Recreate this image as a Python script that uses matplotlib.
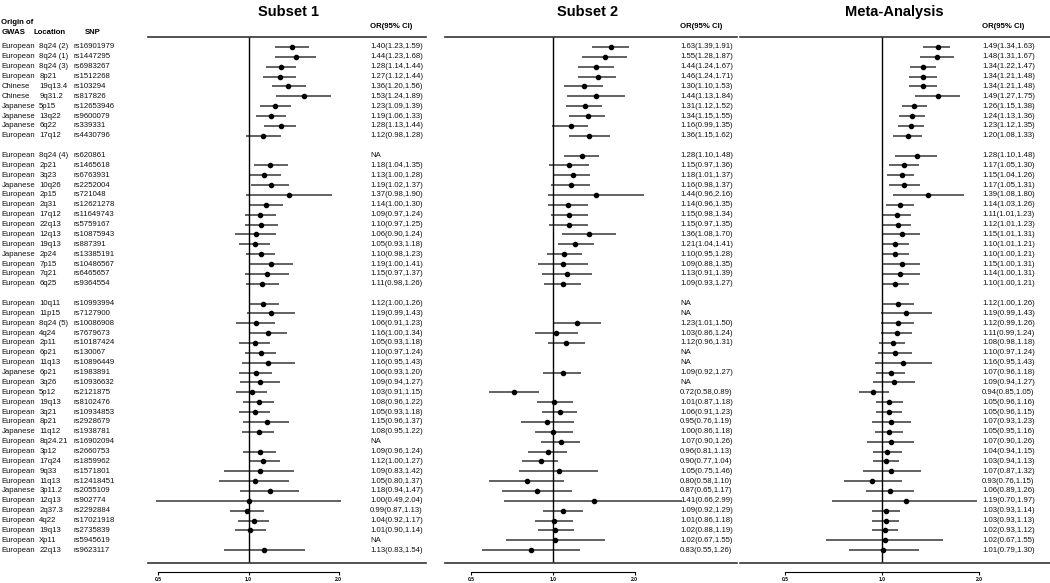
import numpy as np
import matplotlib
matplotlib.use('Agg')
import matplotlib.pyplot as plt
import matplotlib.transforms as mtransforms

plt.rcParams['font.family'] = ['Liberation Sans', 'DejaVu Sans']

# ---- data -------------------------------------------------------------
group_sizes = [10, 14, 26]

origin = ["European", "European", "European", "European", "Chinese", "Chinese",
          "Japanese", "Japanese", "Japanese", "European",
          "European", "European", "European", "Japanese", "European", "European",
          "European", "European", "European", "European", "Japanese", "European",
          "European", "European",
          "European", "European", "European", "European", "European", "European",
          "European", "Japanese", "European", "European", "European", "European",
          "European", "Japanese", "European", "European", "European", "European",
          "European", "Japanese", "European", "European", "European", "European",
          "European", "European"]

location = ["8q24 (2)", "8q24 (1)", "8q24 (3)", "8p21", "19q13.4", "9q31.2", "5p15",
            "13q22", "6q22", "17q12",
            "8q24 (4)", "2p21", "3q23", "10q26", "2p15", "2q31", "17q12", "22q13",
            "12q13", "19q13", "2p24", "7p15", "7q21", "6q25",
            "10q11", "11p15", "8q24 (5)", "4q24", "2p11", "6p21", "11q13", "6p21",
            "3q26", "5p12", "19q13", "3q21", "8p21", "11q12", "8q24.21", "3p12",
            "17q24", "9q33", "11q13", "3p11.2", "12q13", "2q37.3", "4q22", "19q13",
            "Xp11", "22q13"]

snp = ["rs16901979", "rs1447295", "rs6983267", "rs1512268", "rs103294", "rs817826",
       "rs12653946", "rs9600079", "rs339331", "rs4430796",
       "rs620861", "rs1465618", "rs6763931", "rs2252004", "rs721048", "rs12621278",
       "rs11649743", "rs5759167", "rs10875943", "rs887391", "rs13385191",
       "rs10486567", "rs6465657", "rs9364554",
       "rs10993994", "rs7127900", "rs10086908", "rs7679673", "rs10187424",
       "rs130067", "rs10896449", "rs1983891", "rs10936632", "rs2121875",
       "rs8102476", "rs10934853", "rs2928679", "rs1938781", "rs16902094",
       "rs2660753", "rs1859962", "rs1571801", "rs12418451", "rs2055109",
       "rs902774", "rs2292884", "rs17021918", "rs2735839", "rs5945619", "rs9623117"]

s1_or = [1.40, 1.44, 1.28, 1.27, 1.36, 1.53, 1.23, 1.19, 1.28, 1.12,
         None, 1.18, 1.13, 1.19, 1.37, 1.14, 1.09, 1.10, 1.06, 1.05, 1.10, 1.19, 1.15, 1.11,
         1.12, 1.19, 1.06, 1.16, 1.05, 1.10, 1.16, 1.06, 1.09, 1.03, 1.08, 1.05, 1.15,
         1.08, None, 1.09, 1.12, 1.09, 1.05, 1.18, 1.00, 0.99, 1.04, 1.01, None, 1.13]
s1_lo = [1.23, 1.23, 1.14, 1.12, 1.20, 1.24, 1.09, 1.06, 1.13, 0.98,
         None, 1.04, 1.00, 1.02, 0.98, 1.00, 0.97, 0.97, 0.90, 0.93, 0.98, 1.00, 0.97, 0.98,
         1.00, 0.99, 0.91, 1.00, 0.93, 0.97, 0.95, 0.93, 0.94, 0.91, 0.96, 0.93, 0.96,
         0.95, None, 0.96, 1.00, 0.83, 0.80, 0.94, 0.49, 0.87, 0.92, 0.90, None, 0.83]
s1_hi = [1.59, 1.68, 1.44, 1.44, 1.56, 1.89, 1.39, 1.33, 1.44, 1.28,
         None, 1.35, 1.28, 1.37, 1.90, 1.30, 1.24, 1.25, 1.24, 1.18, 1.23, 1.41, 1.37, 1.26,
         1.26, 1.43, 1.23, 1.34, 1.18, 1.24, 1.43, 1.20, 1.27, 1.15, 1.22, 1.18, 1.37,
         1.22, None, 1.24, 1.27, 1.42, 1.37, 1.47, 2.04, 1.13, 1.17, 1.14, None, 1.54]

s2_or = [1.63, 1.55, 1.44, 1.46, 1.30, 1.44, 1.31, 1.34, 1.16, 1.36,
         1.28, 1.15, 1.18, 1.16, 1.44, 1.14, 1.15, 1.15, 1.36, 1.21, 1.10, 1.09, 1.13, 1.09,
         None, None, 1.23, 1.03, 1.12, None, None, 1.09, None, 0.72, 1.01, 1.06, 0.95,
         1.00, 1.07, 0.96, 0.90, 1.05, 0.80, 0.87, 1.41, 1.09, 1.01, 1.02, 1.02, 0.83]
s2_lo = [1.39, 1.28, 1.24, 1.24, 1.10, 1.13, 1.12, 1.15, 0.99, 1.15,
         1.10, 0.97, 1.01, 0.98, 0.96, 0.96, 0.98, 0.97, 1.08, 1.04, 0.95, 0.88, 0.91, 0.93,
         None, None, 1.01, 0.86, 0.96, None, None, 0.92, None, 0.58, 0.87, 0.91, 0.76,
         0.86, 0.90, 0.81, 0.77, 0.75, 0.58, 0.65, 0.66, 0.92, 0.86, 0.88, 0.67, 0.55]
s2_hi = [1.91, 1.87, 1.67, 1.71, 1.53, 1.84, 1.52, 1.55, 1.35, 1.62,
         1.48, 1.36, 1.37, 1.37, 2.16, 1.35, 1.34, 1.35, 1.70, 1.41, 1.28, 1.35, 1.39, 1.27,
         None, None, 1.50, 1.24, 1.31, None, None, 1.27, None, 0.89, 1.18, 1.23, 1.19,
         1.18, 1.26, 1.13, 1.04, 1.46, 1.10, 1.17, 2.99, 1.29, 1.18, 1.19, 1.55, 1.26]

meta_or = [1.49, 1.48, 1.34, 1.34, 1.34, 1.49, 1.26, 1.24, 1.23, 1.20,
           1.28, 1.17, 1.15, 1.17, 1.39, 1.14, 1.11, 1.12, 1.15, 1.10, 1.10, 1.15, 1.14, 1.10,
           1.12, 1.19, 1.12, 1.11, 1.08, 1.10, 1.16, 1.07, 1.09, 0.94, 1.05, 1.05, 1.07,
           1.05, 1.07, 1.04, 1.03, 1.07, 0.93, 1.06, 1.19, 1.03, 1.03, 1.02, 1.02, 1.01]
meta_lo = [1.34, 1.31, 1.22, 1.21, 1.21, 1.27, 1.15, 1.13, 1.12, 1.08,
           1.10, 1.05, 1.04, 1.05, 1.08, 1.03, 1.01, 1.01, 1.01, 1.01, 1.00, 1.00, 1.00, 1.00,
           1.00, 0.99, 0.99, 0.99, 0.98, 0.97, 0.95, 0.96, 0.94, 0.85, 0.96, 0.96, 0.93,
           0.95, 0.90, 0.94, 0.94, 0.87, 0.76, 0.89, 0.70, 0.93, 0.93, 0.93, 0.67, 0.79]
meta_hi = [1.63, 1.67, 1.47, 1.48, 1.48, 1.75, 1.38, 1.36, 1.35, 1.33,
           1.48, 1.30, 1.26, 1.31, 1.80, 1.26, 1.23, 1.23, 1.31, 1.21, 1.21, 1.31, 1.31, 1.21,
           1.26, 1.43, 1.26, 1.24, 1.18, 1.24, 1.43, 1.18, 1.27, 1.05, 1.16, 1.15, 1.23,
           1.16, 1.26, 1.15, 1.13, 1.32, 1.15, 1.26, 1.97, 1.14, 1.13, 1.12, 1.55, 1.30]

panel_titles = ["Subset 1", "Subset 2", "Meta-Analysis"]
x_ticks = [0.5, 1.0, 2.0]

# ---- layout -----------------------------------------------------------
W, H = 1050, 583
fig = plt.figure(figsize=(W / 100, H / 100), dpi=100)

# row slot for each SNP (blank slot between groups)
slots = []
for g, n in enumerate(group_sizes):
    start = sum(group_sizes[:g]) + g
    slots.extend(range(start, start + n))
slots = np.array(slots)

y_top, y_bot = -1.01, 52.3
ax_bottom = 1 - 563 / H
ax_height = (563 - 37) / H
fs = 5.6
txt_col = "#111111"


def fig_ax(left_px, right_px):
    return fig.add_axes([left_px / W, ax_bottom, (right_px - left_px) / W, ax_height])


# left table
tab = fig_ax(0, 148)
tab.set_ylim(y_bot, y_top)
tab.axis("off")
tt = mtransforms.blended_transform_factory(tab.transAxes, tab.transData)
for i, s in enumerate(slots):
    tab.text(0.01, s, origin[i], transform=tt, fontsize=fs, va="center", color=txt_col)
    tab.text(0.265, s, location[i], transform=tt, fontsize=fs, va="center", color=txt_col)
    tab.text(0.495, s, snp[i], transform=tt, fontsize=fs, va="center", color=txt_col)
tab.text(0.01, -2.45, "Origin of", transform=tt, fontsize=fs, va="center", fontweight="bold")
tab.text(0.01, -1.45, "GWAS", transform=tt, fontsize=fs, va="center", fontweight="bold")
tab.text(0.225, -1.45, "Location", transform=tt, fontsize=fs, va="center", fontweight="bold")
tab.text(0.575, -1.45, "SNP", transform=tt, fontsize=fs, va="center", fontweight="bold")

# forest panels: (left px, right px, px at OR=1, px per ln unit, text x px, title x px)
panels = [
    (148, 426, 248.5, 130, 370, 288, s1_or, s1_lo, s1_hi),
    (445, 737, 553, 118, 680, 588, s2_or, s2_lo, s2_hi),
    (740, 1050, 882, 140, 982, 894, meta_or, meta_lo, meta_hi),
]

for k, (lp, rp, one_px, scale, tx, title_x, est, lo, hi) in enumerate(panels):
    ax = fig_ax(lp, rp)
    ax.set_xscale("log")
    ax.set_xlim(np.exp((lp - one_px) / scale), np.exp((rp - one_px) / scale))
    ax.set_ylim(y_bot, y_top)
    ax.patch.set_alpha(0)

    for i, s in enumerate(slots):
        if est[i] is None:
            continue
        ax.plot([lo[i], hi[i]], [s, s], color="#555555", lw=1.3, solid_capstyle="butt")
        ax.plot(est[i], s, "o", color="black", ms=3.0)

    ax.axvline(1.0, color="black", lw=1.0)
    ax.axhline(y_bot, color="#333333", lw=1.2, clip_on=False)

    for side in ["left", "right"]:
        ax.spines[side].set_visible(False)
    ax.spines["top"].set_color("#333333")
    ax.spines["top"].set_linewidth(1.2)
    ax.spines["bottom"].set_position(("outward", 6.5))
    ax.spines["bottom"].set_bounds(0.5, 2.0)
    ax.spines["bottom"].set_linewidth(0.8)
    ax.set_yticks([])
    ax.set_xticks(x_ticks)
    ax.set_xticklabels(["%.1f" % v for v in x_ticks], fontsize=3.6, fontweight="bold")
    ax.xaxis.set_minor_locator(matplotlib.ticker.NullLocator())
    ax.tick_params(axis="x", length=2.2, width=0.8, pad=1.5)

    tf = mtransforms.blended_transform_factory(ax.transAxes, ax.transData)
    fx = (tx - lp) / (rp - lp)
    for i, s in enumerate(slots):
        if est[i] is None:
            label = "NA"
        else:
            label = "%.2f(%.2f,%.2f)" % (est[i], lo[i], hi[i])
        ax.text(fx, s, label, transform=tf, fontsize=fs, va="center", color=txt_col)
    ax.text(fx, -2.05, "OR(95% CI)", transform=tf, fontsize=fs, va="center",
            fontweight="bold")

    fig.text(title_x / W, 1 - 12 / H, panel_titles[k], fontsize=10.5,
             fontweight="bold", ha="center", va="center")

fig.savefig("out.png", dpi=100)
